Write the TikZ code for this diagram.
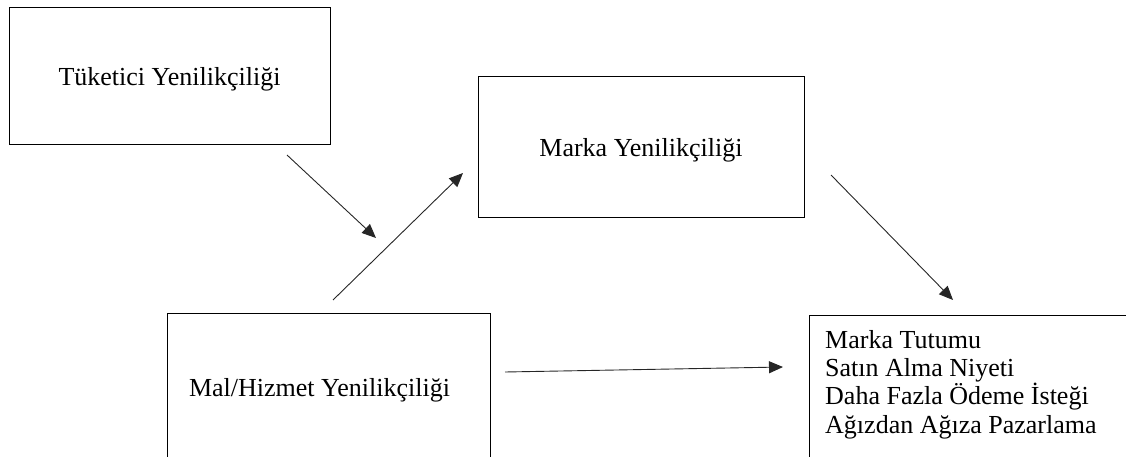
\documentclass[tikz,border=0pt]{standalone}
\usepackage{fontspec}
\setmainfont{Liberation Serif}
\usetikzlibrary{arrows.meta}

\tikzset{
  box/.style={draw=black, line width=0.9pt, inner sep=0pt,
    text height=21pt, text depth=0pt},
  link/.style={line width=0.9pt, black!85, -{Triangle[length=14pt, width=12pt]}}
}

\begin{document}
\begin{tikzpicture}[x=1pt, y=-1pt, font=\fontsize{26}{28.3}\selectfont]

  \useasboundingbox (0,0) rectangle (1126,457);
  \clip (0,0) rectangle (1126,457);

  % The boxes
  \node[box, minimum width=321pt, minimum height=137pt] (cons) at (169.5,75.5) {Tüketici Yenilikçiliği};
  \node[box, minimum width=326pt, minimum height=141pt] (brand) at (641,146.5) {Marka Yenilikçiliği};
  \node[box, minimum height=146pt, inner xsep=22pt] (prod) at (328.5,386) {\makebox[279pt][l]{Mal/Hizmet Yenilikçiliği}};

  % The outcomes
  \node[draw=black, line width=0.9pt, anchor=north west, minimum width=340pt, minimum height=160pt] (box4) at (809,315) {};
  \node[anchor=north west, inner sep=0pt, align=left] (outc) at ([xshift=16pt, yshift=-15pt]box4.north west)
    {Marka Tutumu\\Satın Alma Niyeti\\Daha Fazla Ödeme İsteği\\Ağızdan Ağıza Pazarlama};

  % The arrows
  \coordinate (a1s) at (287,155);
  \coordinate (a1e) at (376,238);
  \coordinate (a2s) at (333,300);
  \coordinate (a2e) at (463,173);
  \coordinate (a3s) at (831,175);
  \coordinate (a3e) at (953,300);
  \coordinate (a4s) at (505,372);
  \coordinate (a4e) at (783,367);
  \draw[link] (a1s) -- (a1e);
  \draw[link] (a2s) -- (a2e);
  \draw[link] (a3s) -- (a3e);
  \draw[link] (a4s) -- (a4e);

\end{tikzpicture}
\end{document}
